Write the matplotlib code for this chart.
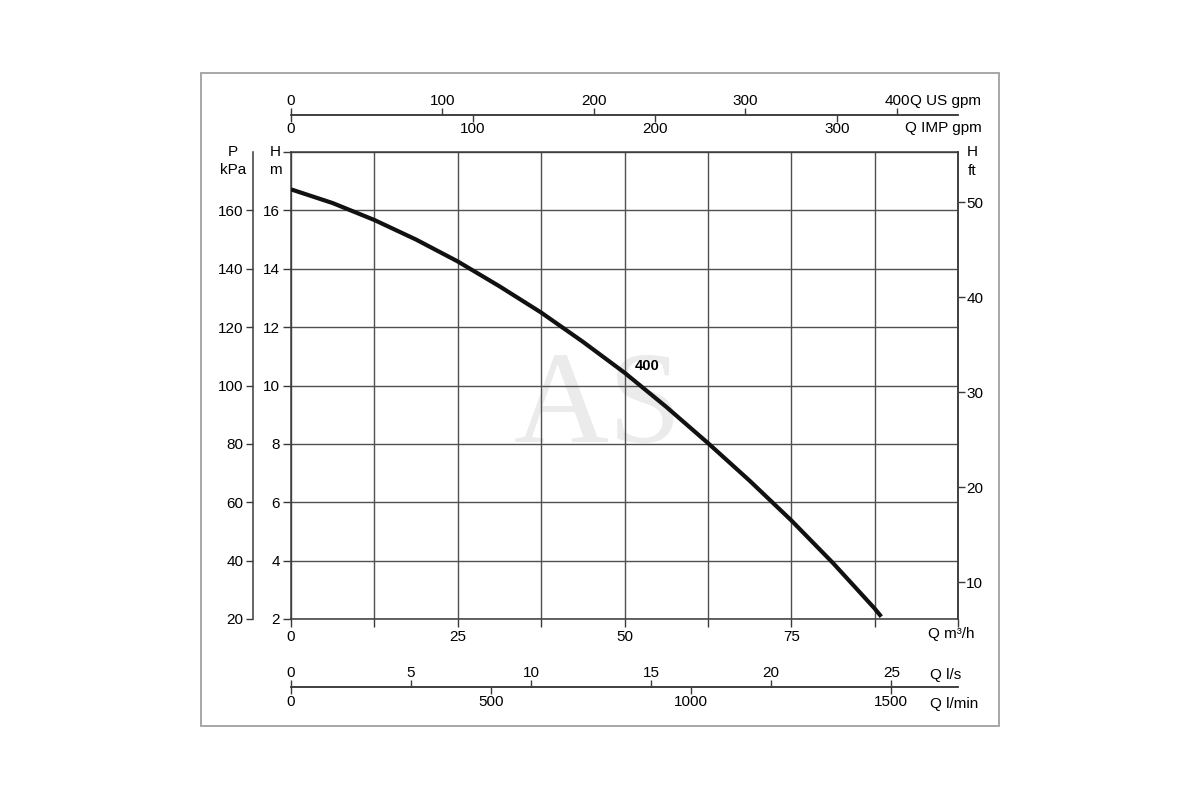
import matplotlib.pyplot as plt
from matplotlib.patches import Rectangle

plt.rcParams['font.family'] = ['Liberation Sans', 'DejaVu Sans']
plt.rcParams['font.size'] = 11

# pump curve (Q in m3/h, H in m)
flow_m3h = [0, 6.25, 12.5, 18.75, 25, 31.25, 37.5, 43.75, 50, 56.25,
            62.5, 68.75, 75, 81.25, 87.5, 88.5]
head_m = [16.72, 16.25, 15.67, 15.00, 14.25, 13.40, 12.50, 11.50, 10.44, 9.27,
          8.03, 6.74, 5.38, 3.92, 2.36, 2.08]
curve_name = "400"

q_ticks = [0, 12.5, 25, 37.5, 50, 62.5, 75, 87.5, 100]
q_labels = ["0", "", "25", "", "50", "", "75", "", ""]
h_ticks = [2, 4, 6, 8, 10, 12, 14, 16, 18]
h_labels = ["2", "4", "6", "8", "10", "12", "14", "16", ""]
p_ticks = [20, 40, 60, 80, 100, 120, 140, 160]
ft_ticks = [10, 20, 30, 40, 50]
us_gpm_ticks = [0, 100, 200, 300, 400]
imp_gpm_ticks = [0, 100, 200, 300]
ls_ticks = [0, 5, 10, 15, 20, 25]
lmin_ticks = [0, 500, 1000, 1500]

W, H = 1200, 800
line_col = "#3a3a3a"


def fx(px):
    return px / W


def fy(py):
    return 1 - py / H


fig = plt.figure(figsize=(12, 8), dpi=100)
fig.patches.append(Rectangle((fx(201), fy(726)), fx(999) - fx(201), fy(73) - fy(726),
                             transform=fig.transFigure, fill=False,
                             edgecolor="#a0a0a0", linewidth=1.3))

ax = fig.add_axes([fx(291), fy(619), fx(958) - fx(291), fy(152) - fy(619)])
ax.set_xlim(0, 100)
ax.set_ylim(2, 18)
ax.set_xticks(q_ticks)
ax.set_xticklabels(q_labels)
ax.set_yticks(h_ticks)
ax.set_yticklabels(h_labels)
ax.grid(True, color="#505050", linewidth=1.0)
ax.set_axisbelow(True)
ax.tick_params(direction="out", length=6, width=1.0, color=line_col, pad=2)
for s in ax.spines.values():
    s.set_color(line_col)
    s.set_linewidth(1.1)

ax.text(46, 9.15, "AS", fontsize=95, family=["Liberation Serif", "DejaVu Serif"],
        color="#ebebeb", ha="center", va="center", zorder=0.2)

ax.plot(flow_m3h, head_m, color="#111111", linewidth=3.0, solid_capstyle="butt",
        solid_joinstyle="round", zorder=3)
ax.text(53.4, 10.67, curve_name, fontsize=10.5, fontweight="bold",
        family=["Liberation Sans Narrow", "Liberation Sans"], ha="center", va="center")

# pressure axis on the far left
pax = ax.secondary_yaxis(-0.057, functions=(lambda h: h * 10, lambda p: p / 10))
pax.set_yticks(p_ticks)
# head in feet on the right
fax = ax.secondary_yaxis("right", functions=(lambda h: h * 3.07, lambda f: f / 3.07))
fax.set_yticks(ft_ticks)

# flow scales above the grid
us = ax.secondary_xaxis(1.079, functions=(lambda q: q * 4.4029, lambda g: g / 4.4029))
us.set_xticks(us_gpm_ticks)
imp = ax.secondary_xaxis(1.079, functions=(lambda q: q * 3.6662, lambda g: g / 3.6662))
imp.set_alignment("bottom")
imp.set_xticks(imp_gpm_ticks)

# flow scales below the grid
ls = ax.secondary_xaxis(-0.1456, functions=(lambda q: q / 3.6, lambda v: v * 3.6))
ls.set_alignment("top")
ls.set_xticks(ls_ticks)
lm = ax.secondary_xaxis(-0.1456, functions=(lambda q: q * 16.667, lambda v: v / 16.667))
lm.set_xticks(lmin_ticks)

for sec, pad in ((pax, 2), (fax, 1), (us, 0), (imp, 0), (ls, 0), (lm, 1)):
    sec.tick_params(direction="out", length=5, width=1.0, color=line_col, pad=pad)
    for s in sec.spines.values():
        s.set_color(line_col)
        s.set_linewidth(1.1)

# unit labels
fig.text(fx(233), fy(152), "P", ha="center", va="center")
fig.text(fx(233), fy(170), "kPa", ha="center", va="center")
fig.text(fx(275), fy(152), "H", ha="center", va="center")
fig.text(fx(275), fy(170), "m", ha="center", va="center")
fig.text(fx(972), fy(152), "H", ha="center", va="center")
fig.text(fx(972), fy(171), "ft", ha="center", va="center")
fig.text(fx(910), fy(101), "Q US gpm", ha="left", va="center")
fig.text(fx(905), fy(128), "Q IMP gpm", ha="left", va="center")
fig.text(fx(928), fy(634), "Q m\u00b3/h", ha="left", va="center")
fig.text(fx(930), fy(675), "Q l/s", ha="left", va="center")
fig.text(fx(930), fy(704), "Q l/min", ha="left", va="center")

fig.savefig("out.png", dpi=100)
